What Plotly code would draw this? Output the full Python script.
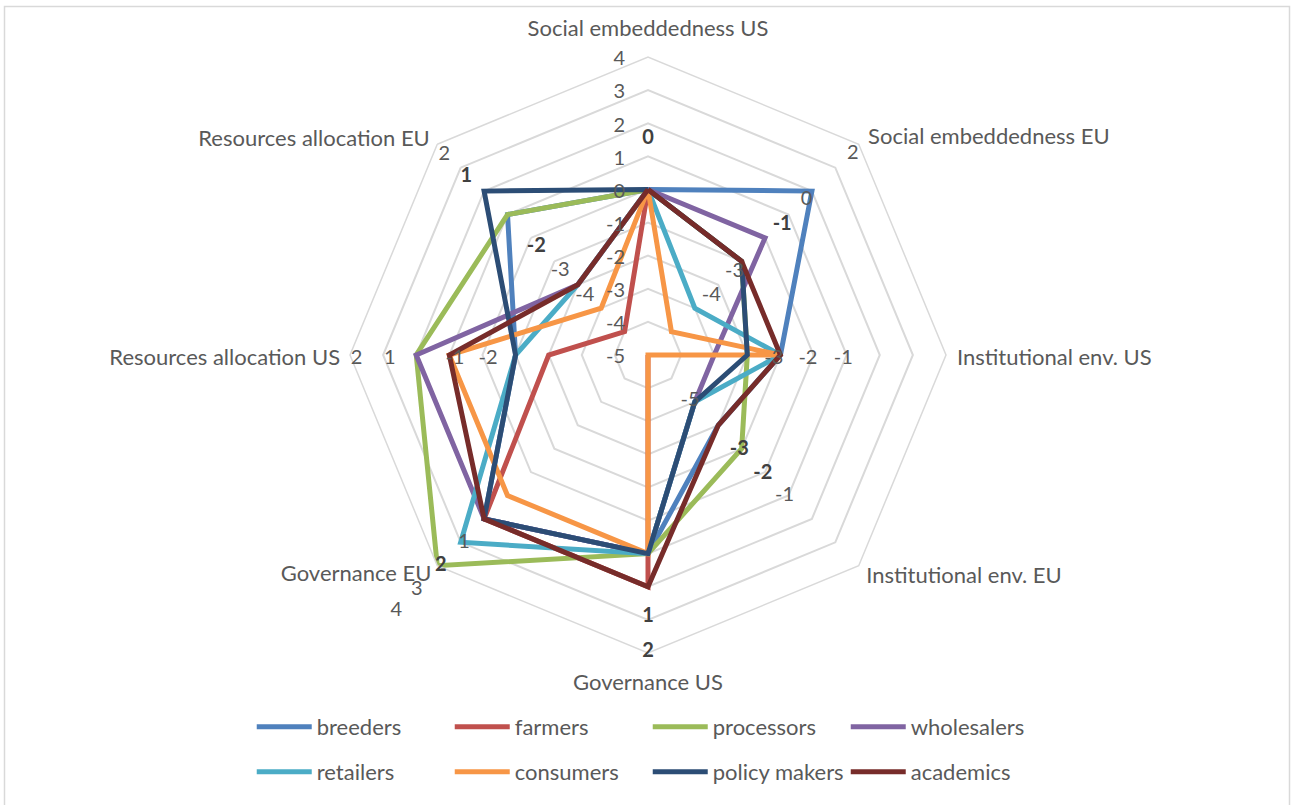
import plotly.graph_objects as go

categories = ["Social embeddedness US", "Social embeddedness EU", "Institutional env. US",
              "Institutional env. EU", "Governance US", "Governance EU",
              "Resources allocation US", "Resources allocation EU"]

series_names = ["breeders", "farmers", "processors", "wholesalers",
                "retailers", "consumers", "policy makers", "academics"]
breeders = [0, 2, -1, -2, 1, 2, -1, 1]
farmers = [0, None, None, -5, 2, 2, -2, -4]
processors = [0, -1, -2, -1, 1, 4, 2, 1]
wholesalers = [0, 0, -3, -3, 1, 2, 2, -2]
retailers = [0, -3, -1, -3, 1, 3, -1, -2]
consumers = [0, -4, -1, -5, 1, 1, 1, -3]
policy_makers = [0, -1, -2, -3, 1, 2, -1, 2]
academics = [0, -1, -1, -2, 2, 2, 1, -2]
series_values = [breeders, farmers, processors, wholesalers,
                 retailers, consumers, policy_makers, academics]
colors = ["#4F81BD", "#C0504D", "#9BBB59", "#8064A2",
          "#4BACC6", "#F79646", "#2C4D75", "#772C2A"]

radial_ticks = [-5, -4, -3, -2, -1, 0, 1, 2, 3, 4]
radial_ticktext = ["-5", "-4", "-3", "-2", "-1", "0", "1", "2", "3", "4"]

# extra value labels scattered along the axes (axis index, value position, text, bold)
label_axis = [0, 1, 1, 1, 1, 1, 2, 2, 2, 3, 3, 3, 3, 4, 4, 5, 5, 5, 5, 6, 6, 6, 6, 7, 7, 7, 7, 7]
label_pos = [1.65, 3.75, 1.77, 0.73, -1.3, -2.3, -1.2, -0.17, 0.9, -3.2, -1.1, -0.1, 0.83,
             2.8, 3.85, 2.86, 3.85, 4.87, 5.75, 3.8, 2.8, 0.83, -0.17, 3.7, 2.76, -0.23, -1.25, -2.3]
label_text = ["0", "2", "0", "-1", "-3", "-4", "-3", "-2", "-1", "-5", "-3", "-2", "-1",
              "1", "2", "1", "2", "3", "4", "2", "1", "-1", "-2", "2", "1", "-2", "-3", "-4"]
label_bold = [1, 0, 0, 1, 0, 0, 0, 0, 0, 0, 1, 1, 0,
              1, 1, 0, 1, 0, 0, 0, 0, 0, 0, 0, 1, 1, 0, 0]

# category label placement (in radial units from the centre) and anchoring
cat_r = [9.91, 9.40, 9.33, 9.32, 9.82, 9.25, 9.30, 9.32]
cat_textpos = ["middle center", "middle right", "middle right", "middle right",
               "middle center", "middle left", "middle left", "middle left"]

FONT = "Lato"
GRAY = "#595959"
DARK = "#404040"
AXMIN, AXMAX = -5, 4
fig = go.Figure()

# data lines on the main radar
for i, (name, vals) in enumerate(zip(series_names, series_values)):
    fig.add_trace(go.Scatterpolar(
        r=vals + [vals[0]],
        theta=categories + [categories[0]],
        mode="lines",
        name=name,
        line=dict(color=colors[i], width=5),
        connectgaps=False,
        legend="legend" if i < 4 else "legend2",
        hoverinfo="skip",
        subplot="polar",
    ))

# text overlay subplot (same scale, radius measured from the centre)
txt_common = dict(showlegend=False, hoverinfo="skip", cliponaxis=False, subplot="polar2")
# radial tick labels along the top axis (transparent markers keep them off the axis)
fig.add_trace(go.Scatterpolar(
    r=[t - AXMIN + 0.02 for t in radial_ticks],
    theta=[categories[0]] * len(radial_ticks),
    mode="markers+text",
    marker=dict(size=35, color="rgba(0,0,0,0)"),
    text=radial_ticktext,
    textposition="middle left",
    textfont=dict(family=FONT, size=20, color=GRAY),
    **txt_common,
))
# category names
fig.add_trace(go.Scatterpolar(
    r=cat_r, theta=categories, text=categories, textposition=cat_textpos, mode="text",
    textfont=dict(family=FONT, size=22, color=GRAY),
    **txt_common,
))
# scattered value labels
for bold_flag, col in [(0, GRAY), (1, DARK)]:
    idx = [k for k in range(len(label_text)) if label_bold[k] == bold_flag]
    fig.add_trace(go.Scatterpolar(
        r=[label_pos[k] - AXMIN for k in idx],
        theta=[categories[label_axis[k]] for k in idx],
        text=[("<b>%s</b>" % label_text[k]) if bold_flag else label_text[k] for k in idx],
        mode="text",
        textposition="middle center",
        textfont=dict(family=FONT, size=20, color=col),
        **txt_common,
    ))

cx, cy, R = 648, 355, 298
W, H = 1291, 805
unit = R / (AXMAX - AXMIN)
cy2 = cy + 4      # small vertical nudge for text baseline metrics
R2 = cy2          # overlay radius reaching the top of the figure
fig.update_layout(
    width=W, height=H, autosize=False,
    margin=dict(l=0, r=0, t=0, b=0),
    paper_bgcolor="white",
    font=dict(family=FONT, size=22, color=GRAY),
    polar=dict(
        domain=dict(x=[(cx - R) / W, (cx + R) / W], y=[(H - cy - R) / H, (H - cy + R) / H]),
        gridshape="linear",
        bgcolor="white",
        radialaxis=dict(range=[AXMIN, AXMAX], tickvals=radial_ticks, showticklabels=False,
                        showline=False, gridcolor="#d9d9d9", gridwidth=1.5, angle=90, ticks=""),
        angularaxis=dict(categoryorder="array", categoryarray=categories,
                         direction="clockwise", rotation=90, showgrid=False,
                         showline=True, linecolor="#d9d9d9", linewidth=1.5, ticks="",
                         showticklabels=False),
    ),
    polar2=dict(
        domain=dict(x=[(cx - R2) / W, (cx + R2) / W], y=[(H - cy2 - R2) / H, 1.0]),
        gridshape="linear",
        bgcolor="rgba(0,0,0,0)",
        radialaxis=dict(range=[0, R2 / unit], visible=False),
        angularaxis=dict(categoryorder="array", categoryarray=categories,
                         direction="clockwise", rotation=90, visible=False),
    ),
    legend=dict(orientation="h", x=0.195, xanchor="left", y=1 - 727 / H, yanchor="middle",
                itemwidth=55, entrywidth=128, font=dict(family=FONT, size=22, color=GRAY),
                bgcolor="rgba(0,0,0,0)"),
    legend2=dict(orientation="h", x=0.195, xanchor="left", y=1 - 772 / H, yanchor="middle",
                 itemwidth=55, entrywidth=128, font=dict(family=FONT, size=22, color=GRAY),
                 bgcolor="rgba(0,0,0,0)"),
    shapes=[dict(type="rect", xref="paper", yref="paper",
                 x0=4.5 / W, x1=1289.5 / W, y0=-0.02, y1=1 - 6.5 / H,
                 line=dict(color="#d9d9d9", width=1.5), fillcolor="rgba(0,0,0,0)", layer="below")],
)

fig.write_html("out.html")
